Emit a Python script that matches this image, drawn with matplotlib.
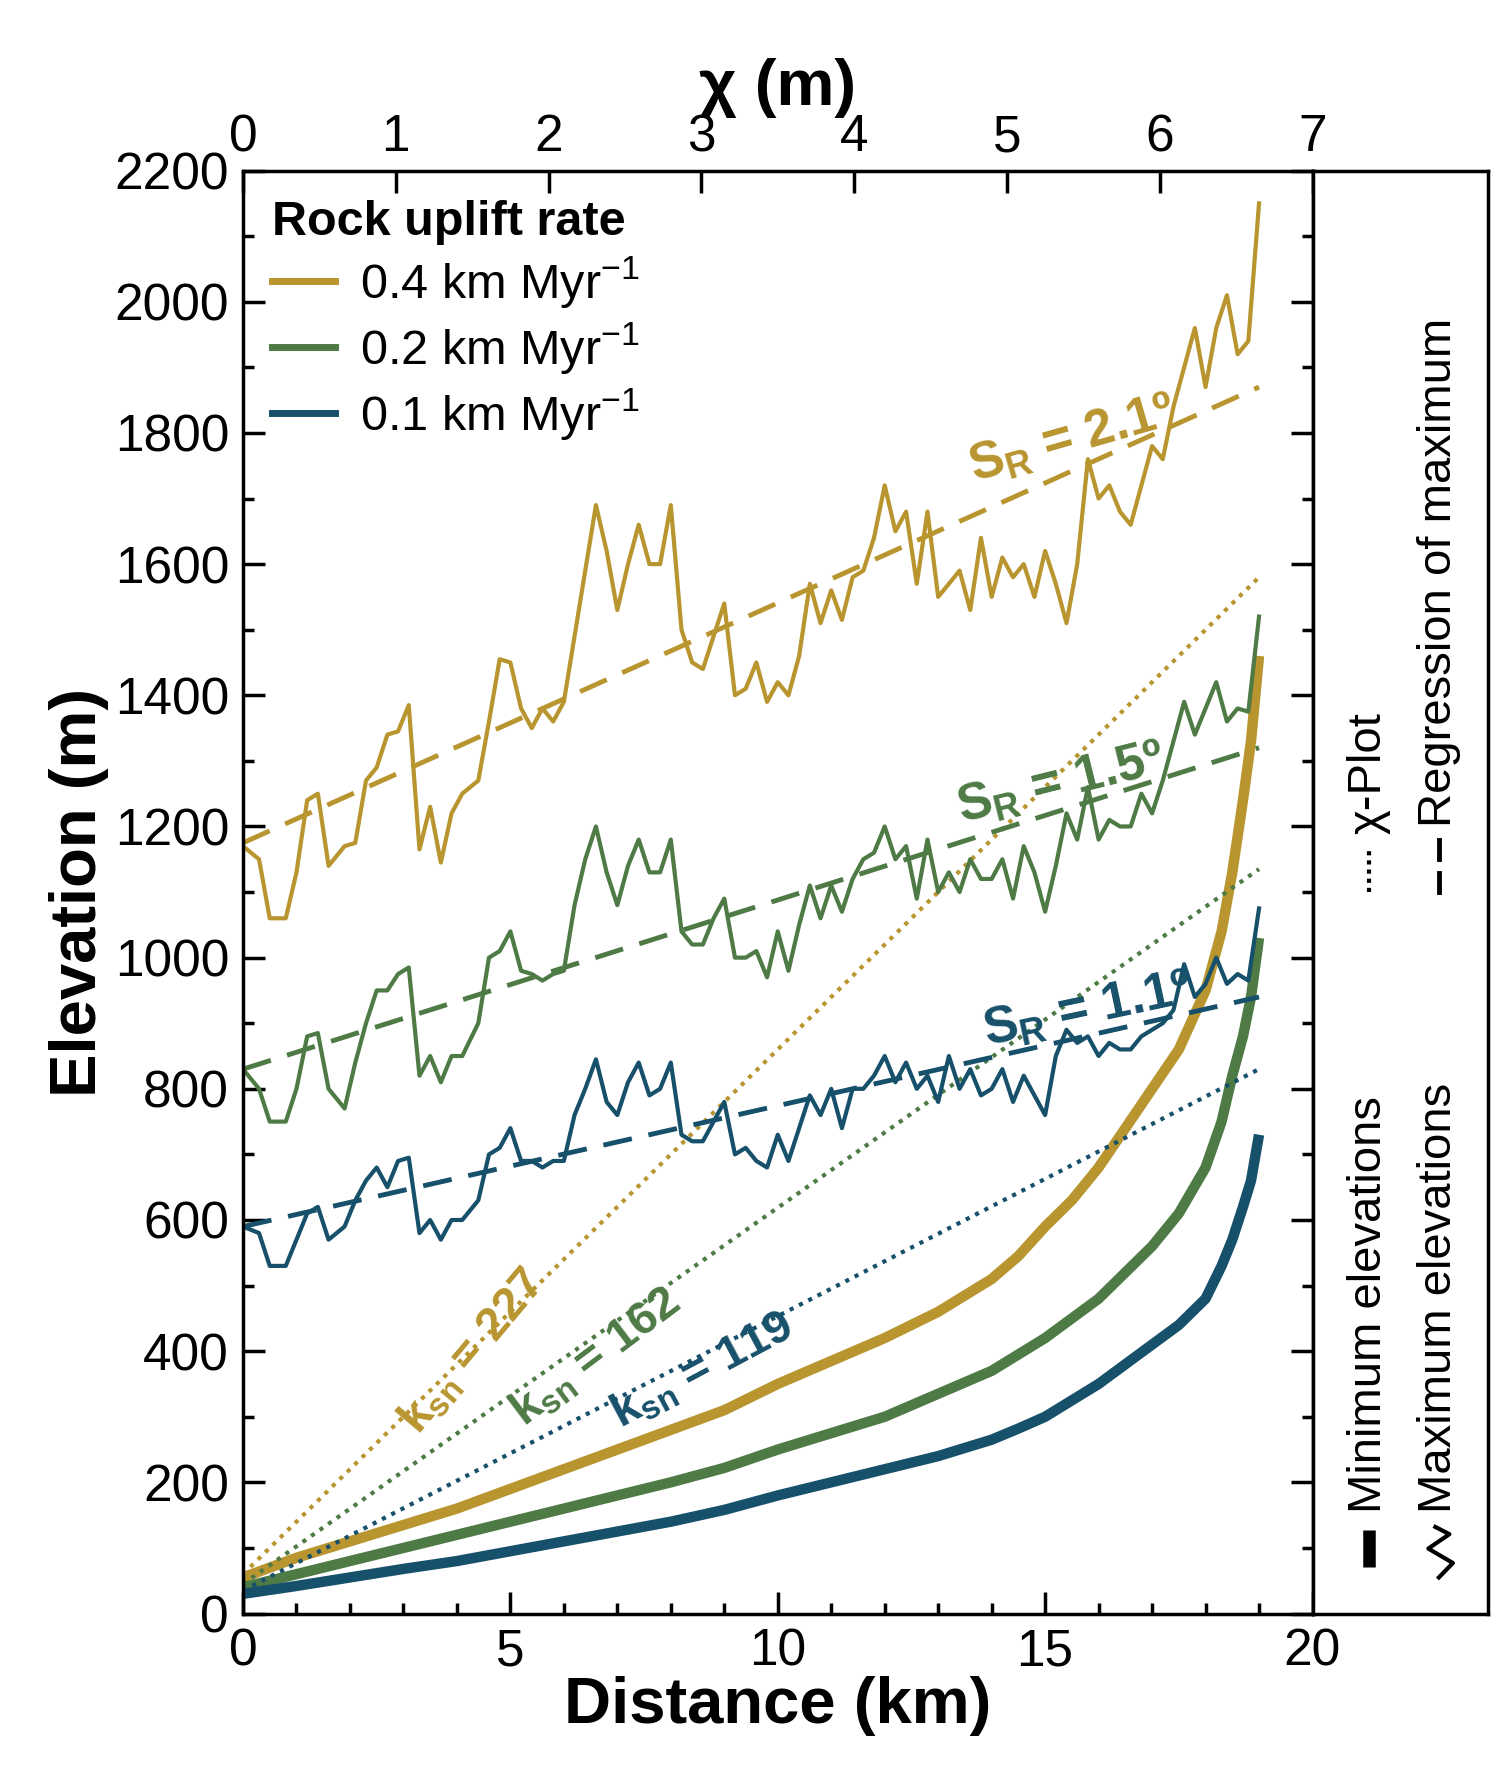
import matplotlib
matplotlib.use("Agg")
import matplotlib.pyplot as plt
import numpy as np

plt.rcParams['font.family'] = ['Liberation Sans', 'DejaVu Sans']
plt.rcParams['mathtext.fontset'] = 'custom'
plt.rcParams['mathtext.rm'] = 'Liberation Sans'
plt.rcParams['mathtext.bf'] = 'Liberation Sans:bold'

colors = {'0.4': '#B8952F', '0.2': '#4E7A45', '0.1': '#17506A'}

max_04 = [(0,1170),(0.3,1150),(0.5,1060),(0.8,1060),(1.0,1130),(1.2,1240),(1.4,1250),(1.6,1140),(1.9,1170),(2.1,1175),(2.3,1270),(2.5,1290),(2.7,1340),(2.9,1345),(3.1,1385),(3.3,1165),(3.5,1230),(3.7,1145),(3.9,1220),(4.1,1250),(4.4,1270),(4.6,1360),(4.8,1455),(5.0,1450),(5.2,1380),(5.4,1350),(5.6,1380),(5.8,1360),(6.0,1390),(6.2,1490),(6.4,1590),(6.6,1690),(6.8,1620),(7.0,1530),(7.2,1600),(7.4,1660),(7.6,1600),(7.8,1600),(8.0,1690),(8.2,1500),(8.4,1450),(8.6,1440),(8.8,1490),(9.0,1540),(9.2,1400),(9.4,1410),(9.6,1450),(9.8,1390),(10.0,1420),(10.2,1400),(10.4,1460),(10.6,1570),(10.8,1510),(11.0,1560),(11.2,1515),(11.4,1580),(11.6,1590),(11.8,1640),(12.0,1720),(12.2,1650),(12.4,1680),(12.6,1570),(12.8,1680),(13.0,1550),(13.2,1570),(13.4,1590),(13.6,1530),(13.8,1640),(14.0,1550),(14.2,1610),(14.4,1580),(14.6,1600),(14.8,1550),(15.0,1620),(15.2,1570),(15.4,1510),(15.6,1600),(15.8,1760),(16.0,1700),(16.2,1720),(16.4,1680),(16.6,1660),(16.8,1720),(17.0,1780),(17.2,1760),(17.4,1840),(17.6,1900),(17.8,1960),(18.0,1870),(18.2,1960),(18.4,2010),(18.6,1920),(18.8,1940),(19.0,2150)]
max_02 = [(0,830),(0.3,800),(0.5,750),(0.8,750),(1.0,800),(1.2,880),(1.4,885),(1.6,800),(1.9,770),(2.1,840),(2.3,900),(2.5,950),(2.7,950),(2.9,975),(3.1,985),(3.3,820),(3.5,850),(3.7,810),(3.9,850),(4.1,850),(4.4,900),(4.6,1000),(4.8,1010),(5.0,1040),(5.2,980),(5.4,975),(5.6,965),(5.8,975),(6.0,980),(6.2,1080),(6.4,1150),(6.6,1200),(6.8,1130),(7.0,1080),(7.2,1140),(7.4,1180),(7.6,1130),(7.8,1130),(8.0,1180),(8.2,1040),(8.4,1020),(8.6,1020),(8.8,1060),(9.0,1090),(9.2,1000),(9.4,1000),(9.6,1010),(9.8,970),(10.0,1040),(10.2,980),(10.4,1050),(10.6,1110),(10.8,1060),(11.0,1110),(11.2,1070),(11.4,1120),(11.6,1150),(11.8,1160),(12.0,1200),(12.2,1150),(12.4,1170),(12.6,1090),(12.8,1180),(13.0,1100),(13.2,1130),(13.4,1100),(13.6,1150),(13.8,1120),(14.0,1120),(14.2,1150),(14.4,1090),(14.6,1170),(14.8,1130),(15.0,1070),(15.2,1140),(15.4,1220),(15.6,1180),(15.8,1260),(16.0,1180),(16.2,1210),(16.4,1200),(16.6,1200),(16.8,1250),(17.0,1220),(17.2,1270),(17.4,1330),(17.6,1390),(17.8,1340),(18.0,1380),(18.2,1420),(18.4,1360),(18.6,1380),(18.8,1375),(19.0,1520)]
max_01 = [(0,590),(0.3,580),(0.5,530),(0.8,530),(1.0,570),(1.2,610),(1.4,620),(1.6,570),(1.9,590),(2.1,630),(2.3,660),(2.5,680),(2.7,650),(2.9,690),(3.1,695),(3.3,580),(3.5,600),(3.7,570),(3.9,600),(4.1,600),(4.4,630),(4.6,700),(4.8,710),(5.0,740),(5.2,690),(5.4,690),(5.6,680),(5.8,690),(6.0,690),(6.2,760),(6.4,800),(6.6,845),(6.8,780),(7.0,760),(7.2,810),(7.4,840),(7.6,790),(7.8,800),(8.0,840),(8.2,730),(8.4,720),(8.6,720),(8.8,750),(9.0,780),(9.2,700),(9.4,710),(9.6,690),(9.8,680),(10.0,730),(10.2,690),(10.4,740),(10.6,790),(10.8,760),(11.0,800),(11.2,740),(11.4,800),(11.6,800),(11.8,820),(12.0,850),(12.2,810),(12.4,840),(12.6,800),(12.8,820),(13.0,780),(13.2,850),(13.4,800),(13.6,830),(13.8,790),(14.0,800),(14.2,830),(14.4,780),(14.6,820),(14.8,790),(15.0,760),(15.2,850),(15.4,890),(15.6,870),(15.8,880),(16.0,850),(16.2,870),(16.4,860),(16.6,860),(16.8,880),(17.0,890),(17.2,900),(17.4,920),(17.6,990),(17.8,940),(18.0,960),(18.2,1000),(18.4,960),(18.6,975),(18.8,965),(19.0,1075)]

min_x = [0, 1, 2, 3, 4, 5, 6, 7, 8, 9, 10, 11, 12, 13, 14, 14.5, 15, 15.5, 16, 16.5, 17, 17.5, 18, 18.3, 18.5, 18.7, 18.85, 19]
min_04 = [55, 85, 110, 135, 160, 190, 220, 250, 280, 310, 350, 385, 420, 460, 510, 545, 590, 630, 680, 740, 800, 860, 950, 1040, 1130, 1240, 1330, 1460]
min_02 = [40, 60, 80, 100, 120, 140, 160, 180, 200, 222, 250, 275, 300, 335, 370, 395, 420, 450, 480, 520, 560, 610, 680, 750, 820, 880, 940, 1030]
min_01 = [30, 42, 55, 68, 80, 95, 110, 125, 140, 158, 180, 200, 220, 240, 265, 282, 300, 325, 350, 380, 410, 440, 480, 530, 570, 620, 660, 730]

line_x = [0, 19]
reg_04 = [1175, 1870]; reg_02 = [830, 1320]; reg_01 = [590, 940]
chi_04 = [60, 1580]; chi_02 = [45, 1135]; chi_01 = [35, 830]

fig = plt.figure(figsize=(15, 17.77), dpi=100)
ax = fig.add_axes([0.162, 0.092, 0.713, 0.812])
series = [('0.4', max_04, min_04, reg_04, chi_04),
          ('0.2', max_02, min_02, reg_02, chi_02),
          ('0.1', max_01, min_01, reg_01, chi_01)]
for key, mx, mn, rg, ch in series:
    c = colors[key]
    xs, ys = zip(*mx)
    ax.plot(xs, ys, color=c, lw=3, label=key + r' km Myr$^{-1}$')
    ax.plot(min_x, mn, color=c, lw=7.5, solid_capstyle='butt')
    ax.plot(line_x, rg, color=c, lw=3.5, dashes=(6, 3.5))
    ax.plot(line_x, ch, color=c, lw=3, linestyle=(0, (1, 1.5)))

ax.set_xlim(0, 20); ax.set_ylim(0, 2200)
ax.set_xticks([0, 5, 10, 15, 20]); ax.set_xticks(range(21), minor=True)
ax.set_yticks(range(0, 2201, 200)); ax.set_yticks(range(0, 2201, 100), minor=True)
ax.tick_params(which='both', direction='in', labelsize=37, width=2.5, top=False, right=True)
ax.tick_params(which='major', length=16, pad=10)
ax.tick_params(which='minor', length=8)
for s in ax.spines.values(): s.set_linewidth(2.5)
ax.set_xlabel('Distance (km)', fontsize=47, fontweight='bold', labelpad=0)
ax.set_ylabel('Elevation (m)', fontsize=47, fontweight='bold', labelpad=4)

top = ax.twiny()
top.set_xlim(0, 7)
top.set_xticks(range(8))
top.tick_params(direction='in', labelsize=37, length=16, width=2.5, pad=6)
top.set_xlabel('χ (m)', fontsize=47, fontweight='bold', labelpad=6)

leg = ax.legend(loc='upper left', fontsize=35, frameon=False, handlelength=1.3,
                handletextpad=0.5, borderaxespad=0.2, labelspacing=0.2, title='Rock uplift rate',
                title_fontproperties={'size': 35, 'weight': 'bold'})
leg._legend_box.align = 'left'
for l in leg.get_lines(): l.set_linewidth(5)

fs = 37
ax.text(15.5, 1790, r'S$_{\mathbf{R}}$ = 2.1º', color=colors['0.4'], fontsize=fs, fontweight='bold', rotation=16, ha='center', va='center')
ax.text(15.3, 1265, r'S$_{\mathbf{R}}$ = 1.5º', color=colors['0.2'], fontsize=fs, fontweight='bold', rotation=14, ha='center', va='center')
ax.text(15.8, 920, r'S$_{\mathbf{R}}$ = 1.1º', color=colors['0.1'], fontsize=fs, fontweight='bold', rotation=12, ha='center', va='center')
ax.text(4.3, 400, r'k$_{\mathbf{sn}}$ = 227', color=colors['0.4'], fontsize=fs-3, fontweight='bold', rotation=50, ha='center', va='center')
ax.text(6.6, 390, r'k$_{\mathbf{sn}}$ = 162', color=colors['0.2'], fontsize=fs-3, fontweight='bold', rotation=37, ha='center', va='center')
ax.text(8.6, 370, r'k$_{\mathbf{sn}}$ = 119', color=colors['0.1'], fontsize=fs-3, fontweight='bold', rotation=28, ha='center', va='center')

pan = fig.add_axes([0.875, 0.092, 0.117, 0.812])
pan.set_xlim(0, 1); pan.set_ylim(0, 1)
pan.set_xticks([]); pan.set_yticks([])
for s in pan.spines.values(): s.set_linewidth(2.5)
pan.plot([0.32, 0.32], [0.032, 0.058], color='black', lw=9, solid_capstyle='butt')
pan.text(0.32, 0.07, 'Minimum elevations', rotation=90, fontsize=34, ha='center', va='bottom')
pan.plot([0.32, 0.32], [0.50, 0.53], color='black', lw=3, linestyle=(0, (1, 1.2)))
pan.text(0.32, 0.54, 'χ-Plot', rotation=90, fontsize=34, ha='center', va='bottom')
pan.plot([0.72, 0.80, 0.66, 0.78, 0.70], [0.025, 0.035, 0.045, 0.055, 0.06], color='black', lw=3)
pan.text(0.72, 0.07, 'Maximum elevations', rotation=90, fontsize=34, ha='center', va='bottom')
pan.plot([0.72, 0.72], [0.50, 0.513], color='black', lw=3.5)
pan.plot([0.72, 0.72], [0.523, 0.536], color='black', lw=3.5)
pan.text(0.72, 0.545, 'Regression of maximum', rotation=90, fontsize=34, ha='center', va='bottom')

fig.savefig('out.png', dpi=100)
